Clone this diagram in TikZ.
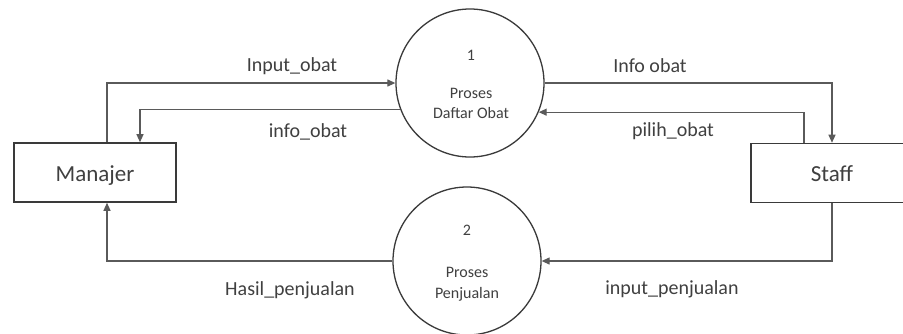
\documentclass[tikz,border=0pt]{standalone}
\usepackage{fontspec}
\setmainfont{Carlito}
\usetikzlibrary{arrows.meta,calc}
\definecolor{txt}{HTML}{404040}
\definecolor{ln}{HTML}{5A5A5A}
\definecolor{bd}{HTML}{3A3A3A}
\begin{document}
\begin{tikzpicture}[x=1pt,y=-1pt,
  entity/.style={draw=bd,line width=1.6pt,rectangle,minimum width=162pt,minimum height=59pt,inner sep=0pt,font=\fontsize{23}{27}\selectfont,text=txt},
  proc/.style={draw=bd,line width=1.3pt,circle,minimum size=148pt,inner sep=0pt},
  ptext/.style={anchor=base,font=\fontsize{16}{19}\selectfont,text=txt,inner sep=0pt},
  lbl/.style={anchor=base,font=\fontsize{20}{24}\selectfont,text=txt,inner sep=0pt},
  flow/.style={draw=ln,line width=1.2pt,-{Triangle[length=8pt,width=7pt]}}]
\useasboundingbox (0,0) rectangle (903,333);
\clip (0,0) rectangle (903,333);
\fill[white] (0,0) rectangle (903,333);
% entities
\node[entity] (manajer) at (95,172.5) {};
\node[anchor=base,font=\fontsize{23}{27}\selectfont,text=txt,inner sep=0pt] (tman) at (95,181) {Manajer};
\node[entity] (staff) at (832,173) {};
\node[anchor=base,font=\fontsize{23}{27}\selectfont,text=txt,inner sep=0pt] (tstaff) at (832,181) {Staff};
% processes
\node[proc] (p1) at (470,83) {};
\node[ptext] (n1) at (471,60) {1};
\node[ptext] (a1) at (471,98) {Proses};
\node[ptext] (b1) at (471,118) {Daftar Obat};
\node[proc] (p2) at (467,261) {};
\node[ptext] (n2) at (467,235) {2};
\node[ptext] (a2) at (467,277) {Proses};
\node[ptext] (b2) at (467,298) {Penjualan};
% flows
\coordinate (mtop1) at ($(manajer.north)+(12,0)$);
\coordinate (mtop2) at ($(manajer.north)+(45,0)$);
\coordinate (mbot) at ($(manajer.south)+(12,0)$);
\coordinate (stop2) at ($(staff.north)+(-28,0)$);
\draw[flow] (mtop1) |- (p1.west);
\draw[flow] (p1.201) -| (mtop2);
\draw[flow] (p1.east) -| (staff.north);
\draw[flow] (stop2) |- (p1.337);
\draw[flow] (p2.west) -| (mbot);
\draw[flow] (staff.south) |- (p2.east);
% labels
\node[lbl] (l1) at (292,71) {Input\_obat};
\node[lbl] (l2) at (308,137) {info\_obat};
\node[lbl] (l3) at (650,72) {Info obat};
\node[lbl] (l4) at (673,136) {pilih\_obat};
\node[lbl] (l5) at (290,295) {Hasil\_penjualan};
\node[lbl] (l6) at (672,294) {input\_penjualan};
\end{tikzpicture}
\end{document}
